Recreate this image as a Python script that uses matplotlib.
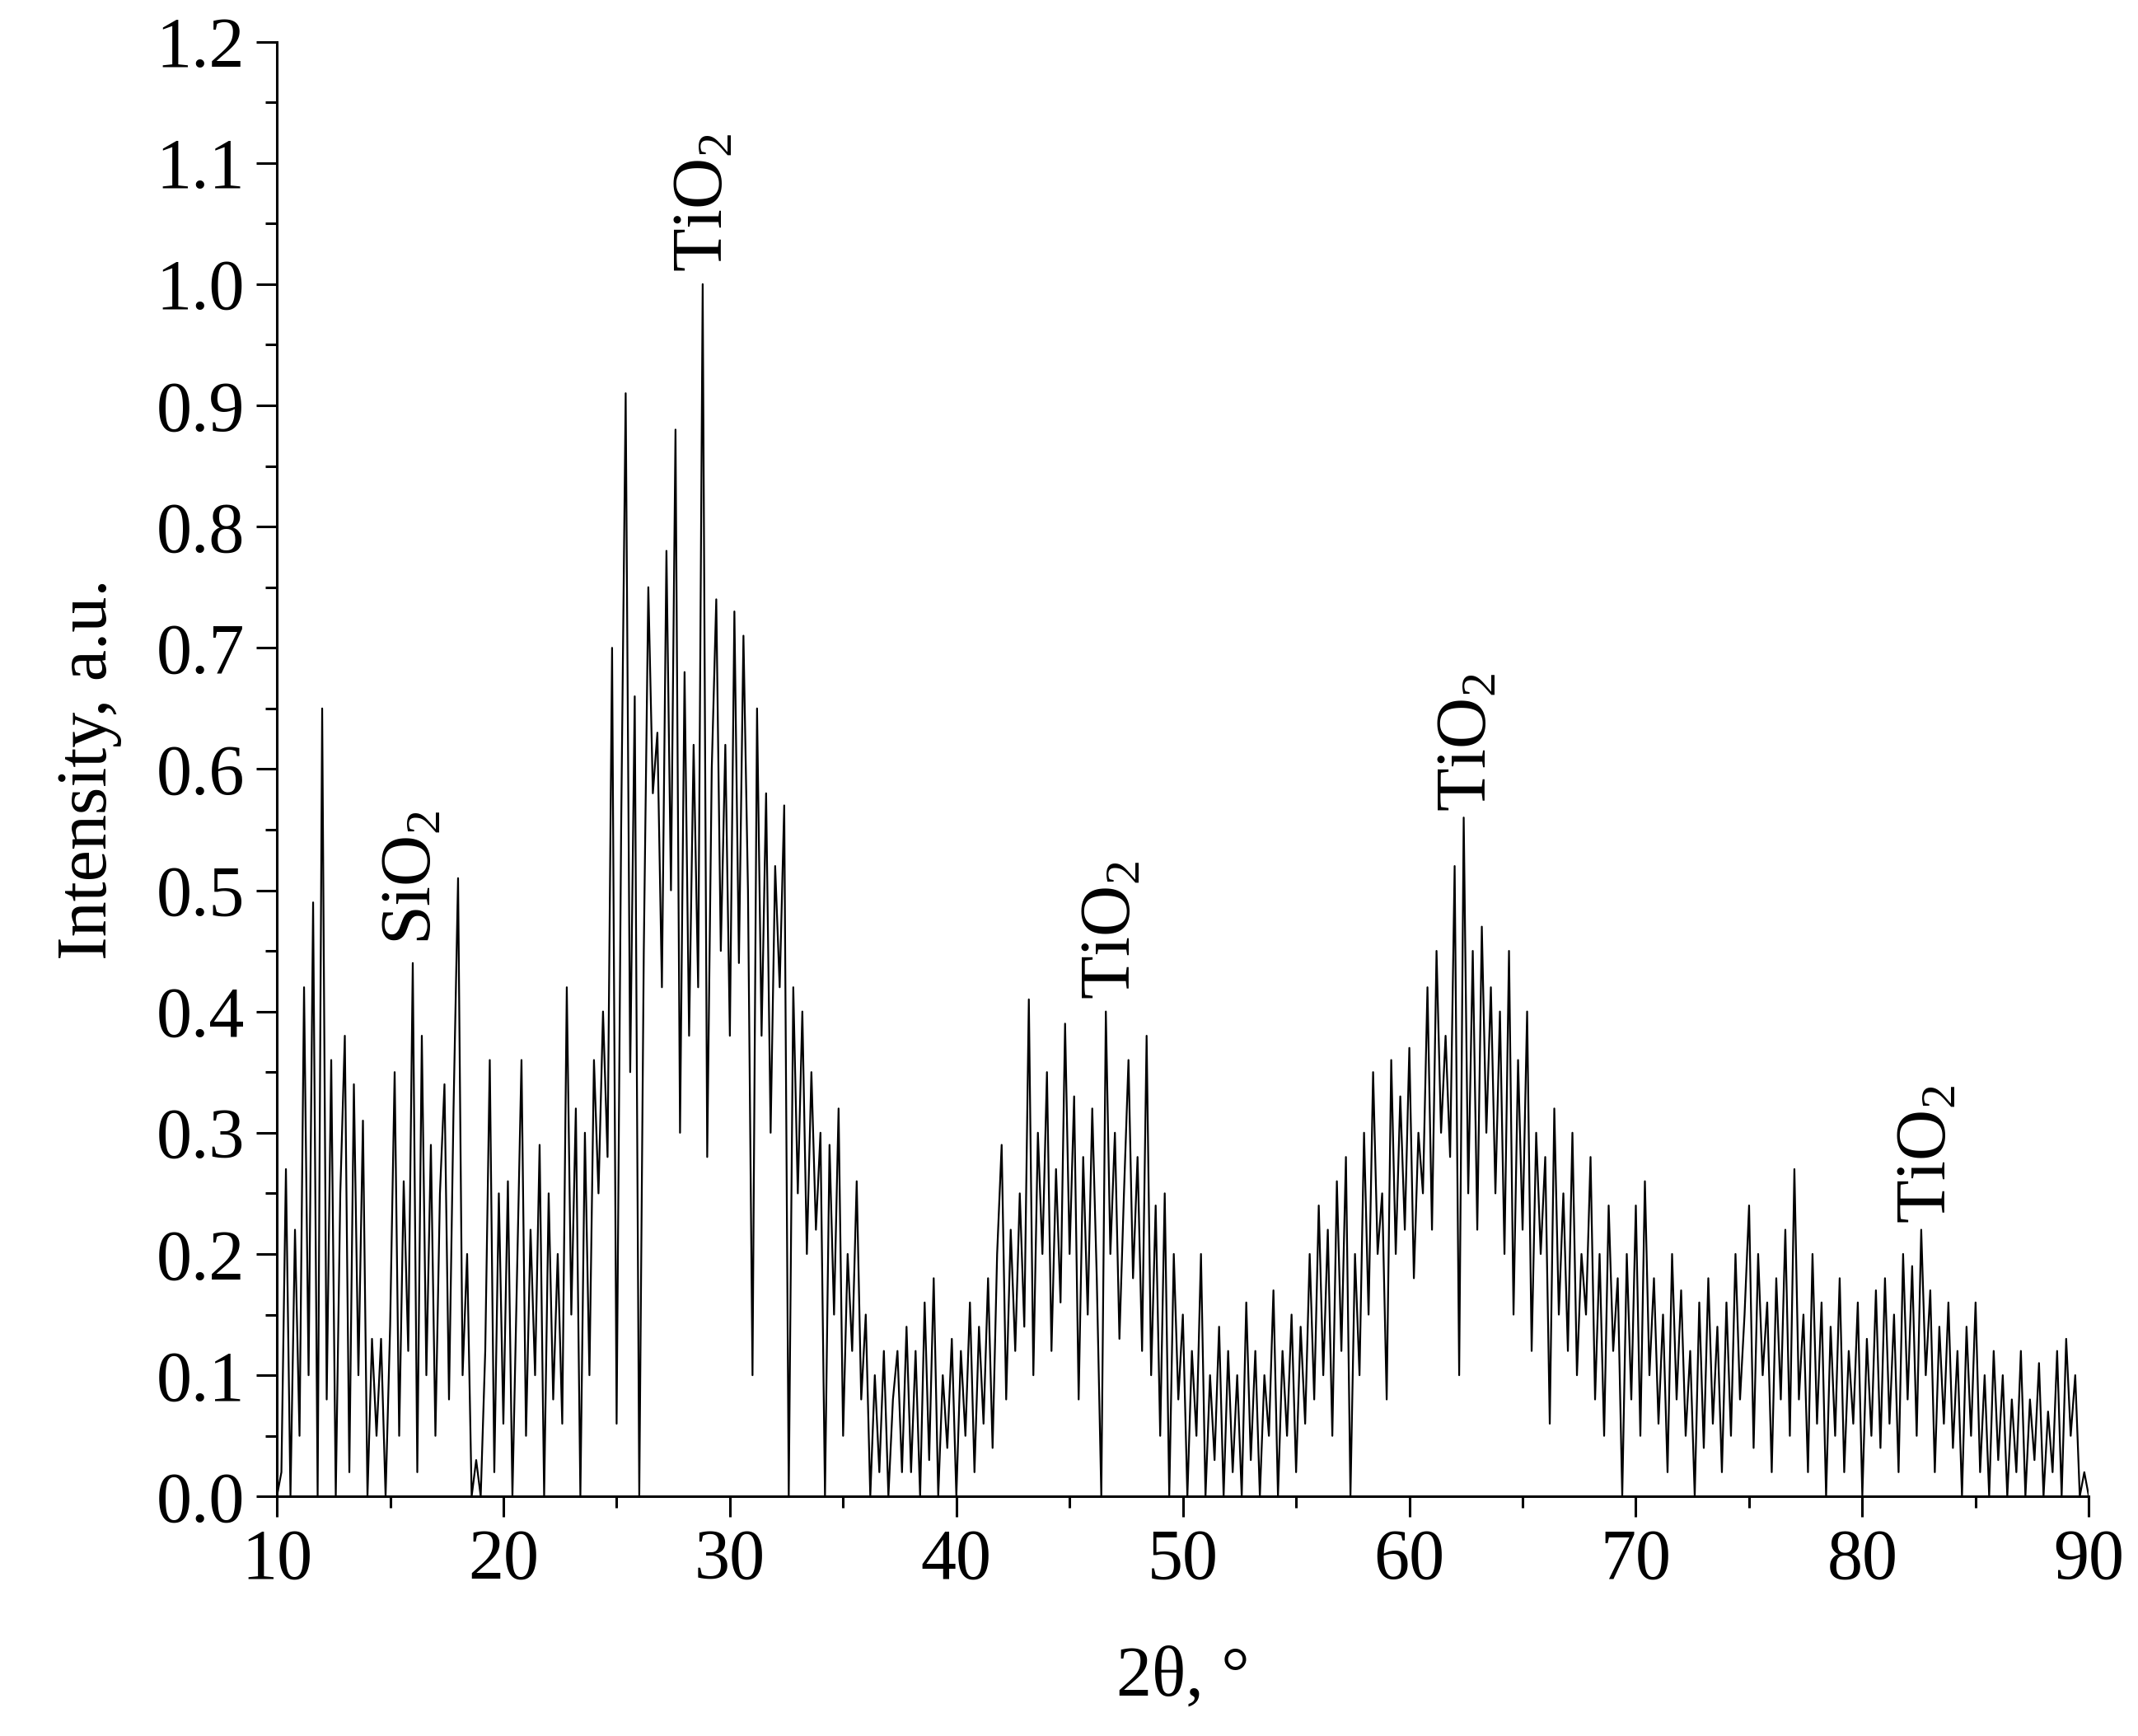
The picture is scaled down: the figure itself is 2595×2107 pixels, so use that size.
import numpy as np
import matplotlib
matplotlib.use("Agg")
import matplotlib.pyplot as plt
from matplotlib.ticker import MultipleLocator

plt.rcParams['font.family'] = ['Liberation Serif', 'DejaVu Serif']
plt.rcParams['mathtext.fontset'] = 'custom'
plt.rcParams['mathtext.rm'] = 'Liberation Serif'
plt.rcParams['mathtext.it'] = 'Liberation Serif:italic'

two_theta_start = 10.0
two_theta_step = 0.2
intensity = [
0.0,0.02,0.27,0.0,0.22, 0.05,0.42,0.1,0.49,0.0, 0.65,0.08,0.36,0.0,0.25, 0.38,0.02,0.34,0.1,0.31,
0.0,0.13,0.05,0.13,0.0, 0.14,0.35,0.05,0.26,0.12, 0.44,0.02,0.38,0.1,0.29, 0.05,0.25,0.34,0.08,0.32,
0.51,0.1,0.2,0.0,0.03, 0.0,0.12,0.36,0.02,0.25, 0.06,0.26,0.0,0.18,0.36, 0.05,0.22,0.1,0.29,0.0,
0.25,0.08,0.2,0.06,0.42, 0.15,0.32,0.0,0.3,0.1, 0.36,0.25,0.4,0.28,0.7, 0.06,0.55,0.91,0.35,0.66,
0.0,0.45,0.75,0.58,0.63, 0.42,0.78,0.5,0.88,0.3, 0.68,0.38,0.62,0.42,1.0, 0.28,0.6,0.74,0.45,0.62,
0.38,0.73,0.44,0.71,0.5, 0.1,0.65,0.38,0.58,0.3, 0.52,0.42,0.57,0.0,0.42, 0.25,0.4,0.2,0.35,0.22,
0.3,0.0,0.29,0.15,0.32, 0.05,0.2,0.12,0.26,0.08, 0.15,0.0,0.1,0.02,0.12, 0.0,0.08,0.12,0.02,0.14,
0.02,0.12,0.0,0.16,0.03, 0.18,0.0,0.1,0.04,0.13, 0.0,0.12,0.05,0.16,0.02, 0.14,0.06,0.18,0.04,0.2,
0.29,0.08,0.22,0.12,0.25, 0.14,0.41,0.1,0.3,0.2, 0.35,0.12,0.27,0.16,0.39, 0.2,0.33,0.08,0.28,0.15,
0.32,0.18,0.0,0.4,0.2, 0.3,0.13,0.25,0.36,0.18, 0.28,0.12,0.38,0.1,0.24, 0.05,0.25,0.0,0.2,0.08,
0.15,0.0,0.12,0.05,0.2, 0.0,0.1,0.03,0.14,0.0, 0.12,0.02,0.1,0.0,0.16, 0.03,0.12,0.0,0.1,0.05,
0.17,0.0,0.12,0.05,0.15, 0.02,0.14,0.06,0.2,0.08, 0.24,0.1,0.22,0.05,0.26, 0.12,0.28,0.0,0.2,0.1,
0.3,0.15,0.35,0.2,0.25, 0.08,0.36,0.2,0.33,0.22, 0.37,0.18,0.3,0.25,0.42, 0.22,0.45,0.3,0.38,0.28,
0.52,0.1,0.56,0.25,0.45, 0.22,0.47,0.3,0.42,0.25, 0.4,0.2,0.45,0.15,0.36, 0.22,0.4,0.12,0.3,0.2,
0.28,0.06,0.32,0.15,0.25, 0.12,0.3,0.1,0.2,0.15, 0.28,0.08,0.2,0.05,0.24, 0.12,0.18,0.0,0.2,0.08,
0.24,0.05,0.26,0.1,0.18, 0.06,0.15,0.02,0.2,0.08, 0.17,0.05,0.12,0.0,0.16, 0.04,0.18,0.06,0.14,0.02,
0.16,0.05,0.2,0.08,0.15, 0.24,0.04,0.2,0.1,0.16, 0.02,0.18,0.08,0.22,0.05, 0.27,0.08,0.15,0.02,0.2,
0.06,0.16,0.0,0.14,0.05, 0.18,0.02,0.12,0.06,0.16, 0.0,0.13,0.05,0.17,0.04, 0.18,0.06,0.15,0.02,0.2,
0.08,0.19,0.05,0.22,0.1, 0.17,0.02,0.14,0.06,0.16, 0.04,0.12,0.0,0.14,0.05, 0.16,0.02,0.1,0.0,0.12,
0.03,0.1,0.0,0.08,0.02, 0.12,0.0,0.08,0.03,0.11, 0.0,0.07,0.02,0.12,0.0, 0.13,0.05,0.1,0.0,0.02,
0.0]
two_theta = two_theta_start + two_theta_step * np.arange(len(intensity))

label_text = ["SiO$_2$", "TiO$_2$", "TiO$_2$", "TiO$_2$", "TiO$_2$"]
label_x = [16.0, 28.9, 46.9, 62.6, 82.9]
label_y = [0.455, 1.01, 0.41, 0.565, 0.225]

fig = plt.figure(figsize=(25.95, 21.07), dpi=100)
ax = fig.add_axes([0.1295, 0.138, 0.8475, 0.838])
ax.plot(two_theta, intensity, color='black', lw=1.6)
ax.set_xlim(10, 90)
ax.set_ylim(0, 1.2)
ax.xaxis.set_major_locator(MultipleLocator(10))
ax.xaxis.set_minor_locator(MultipleLocator(5))
ax.yaxis.set_major_locator(MultipleLocator(0.1))
ax.yaxis.set_minor_locator(MultipleLocator(0.05))
ax.yaxis.set_major_formatter(matplotlib.ticker.FormatStrFormatter('%.1f'))
for s in ['top', 'right']:
    ax.spines[s].set_visible(False)
for s in ['left', 'bottom']:
    ax.spines[s].set_linewidth(2.2)
ax.tick_params(which='major', direction='out', length=18, width=2.2, labelsize=62, pad=10)
ax.tick_params(which='minor', direction='out', length=10, width=2.2)
ax.set_xlabel('2θ, °', fontsize=62, labelpad=45)
ax.set_ylabel('Intensity, a.u.', fontsize=62, labelpad=30)
for t, x, y in zip(label_text, label_x, label_y):
    ax.text(x, y, t, rotation=90, fontsize=62, ha='center', va='bottom')
fig.savefig('out.png', dpi=100)
